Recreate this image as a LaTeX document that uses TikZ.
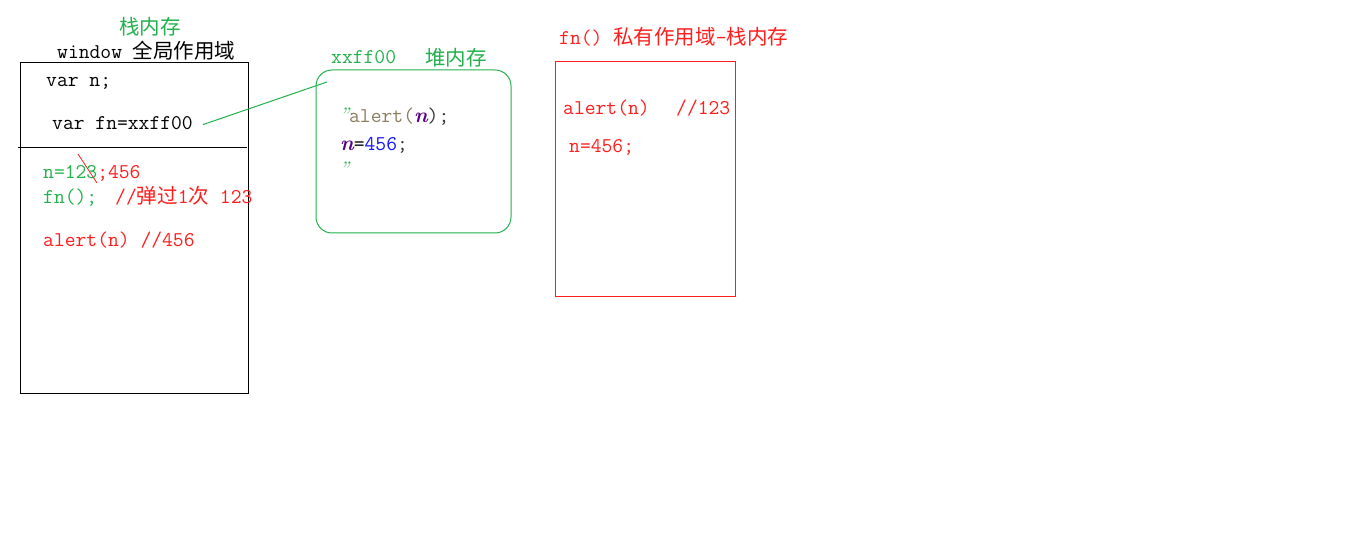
\documentclass[tikz,border=0pt]{standalone}
\usepackage{fontspec}
\newfontfamily\cjk{Noto Sans CJK SC}
\definecolor{pgreen}{RGB}{34,177,76}
\definecolor{pred}{RGB}{255,30,30}
\definecolor{ppurple}{RGB}{90,0,130}
\definecolor{pbrown}{RGB}{140,125,95}
\definecolor{pblue}{RGB}{20,20,255}
\newcommand{\nvar}{{\rmfamily\bfseries\itshape\color{ppurple}n}}
\newcommand{\gq}{{\rmfamily\itshape\color{pgreen}\char"201D}}
\begin{document}
\begin{tikzpicture}[x=1pt,y=-1pt,
  txt/.style={inner sep=0pt,anchor=base west,font=\ttfamily\fontsize{21}{24}\selectfont},
  cjkt/.style={inner sep=0pt,anchor=center,font=\cjk\fontsize{20.5}{24}\selectfont},
  thinline/.style={line width=1pt}]
\useasboundingbox[fill=white] (0,0) rectangle (1360,540);
% global stack box
\node[draw=black,thinline,minimum width=228,minimum height=330,inner sep=0pt] (gbox) at (134,228) {};
\coordinate (sepL) at (18,148);
\coordinate (sepR) at (247,148);
\draw[black,thinline] (sepL) -- (sepR);
\node[cjkt,text=pgreen] (stacklbl) at (150,27) {栈内存};
\node[txt,text=black] (winlbl) at (57,59) {window {\cjk\fontsize{20.5}{24}\selectfont 全局作用域}};
\node[txt,text=black] (varn) at (46,87) {var n;};
\node[txt,text=black] (varfn) at (52,130) {var fn=xxff00};
\node[txt,text=pgreen] (n123) at (43,179) {n=123\textcolor{pred}{;456}};
\coordinate (s1) at (78,154);
\coordinate (s2) at (97,183);
\draw[pred,line width=0.8pt] (s1) -- (s2);
\node[txt,text=pgreen] (fncall) at (43,204) {\makebox[72pt][l]{fn();}\textcolor{pred}{//{\cjk\fontsize{20.5}{24}\selectfont 弹过}1{\cjk\fontsize{20.5}{24}\selectfont 次} 123}};
\node[txt,text=pred] (alert1) at (43,247) {alert(n) //456};
% heap box
\node[draw=pgreen,thinline,rounded corners=16pt,minimum width=195,minimum height=163,inner sep=0pt] (heap) at (413.5,151.5) {};
\node[txt,text=pgreen] (heaplbl) at (331,64) {xxff00};
\node[cjkt,text=pgreen] (heapname) at (456,58) {堆内存};
\coordinate (hp) at (327,82);
\draw[pgreen,thinline] ([xshift=10pt,yshift=-1pt]varfn.east) -- (hp);
\node[txt] (h1) at (339,123) {\gq\textcolor{pbrown}{alert(}\nvar\textcolor{black!80}{);}};
\node[txt] (h2) at (340,151) {\nvar\textcolor{black}{=}\textcolor{pblue}{456}\textcolor{black!80}{;}};
\node[txt] (h3) at (339,177) {\gq};
% private scope box
\node[draw=pred,thinline,minimum width=180,minimum height=234,inner sep=0pt] (pbox) at (645,179) {};
\node[txt,text=pred] (plbl) at (559,45) {fn() {\cjk\fontsize{20.5}{24}\selectfont 私有作用域}-{\cjk\fontsize{20.5}{24}\selectfont 栈内存}};
\node[txt,text=pred] (palert) at (563,115) {\makebox[113pt][l]{alert(n)}//123};
\node[txt,text=pred] (pn) at (569,153) {n=456;};
\end{tikzpicture}
\end{document}
